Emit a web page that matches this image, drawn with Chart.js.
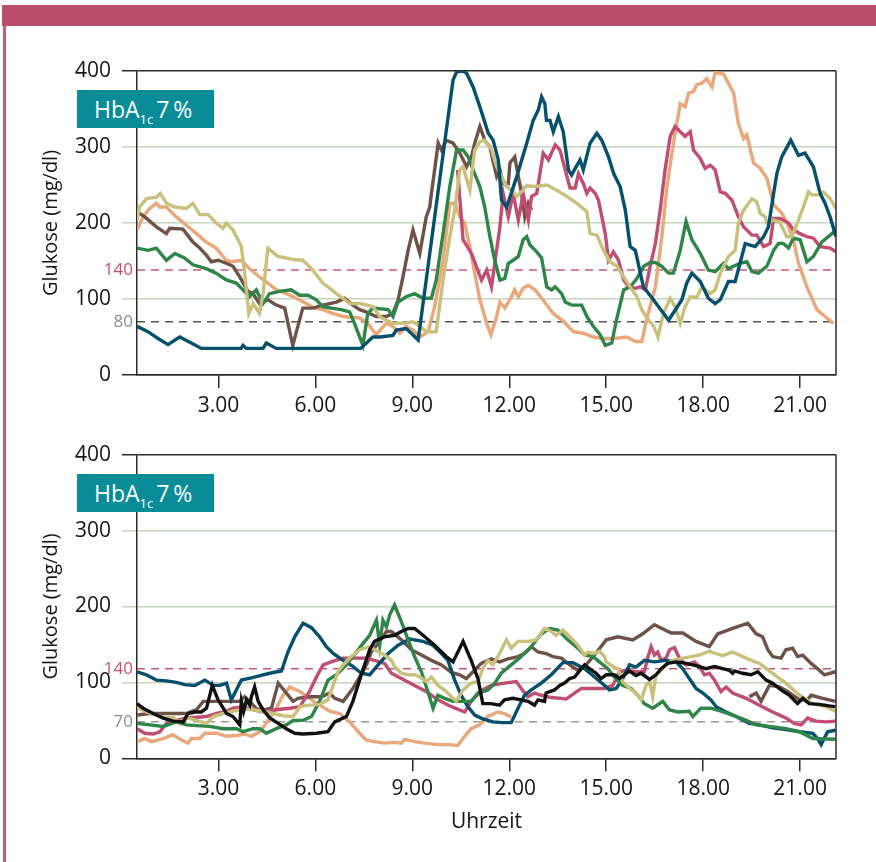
<!DOCTYPE html>
<html>
<head>
<meta charset="utf-8">
<script src="https://cdn.jsdelivr.net/npm/chart.js@4.4.0/dist/chart.umd.min.js"></script>
<style>
  body { margin: 0; background: #fff; width: 876px; height: 862px; position: relative; overflow: hidden; font-family: 'Open Sans', sans-serif; }
  .bar { position: absolute; left: 2px; top: 5px; width: 874px; height: 21px; background: #b94f6b; }
  .side { position: absolute; left: 3px; top: 26px; width: 3px; height: 836px; background: #c25b7a; }
  canvas { position: absolute; left: 0; }
  #topChart { top: 0; }
  #bottomChart { top: 431px; }
  .badge { position: absolute; left: 77px; width: 137px; height: 38px; background: #088c98; color: #fff;
           font-size: 23px; line-height: 38px; padding-left: 17px; box-sizing: border-box; white-space: nowrap; }
  .badge sub { font-size: 13px; line-height: 0; vertical-align: -6px; margin-right: 3px; }
</style>
</head>
<body>
<div class="bar"></div>
<div class="side"></div>
<canvas id="topChart" width="876" height="431"></canvas>
<canvas id="bottomChart" width="876" height="431"></canvas>
<div class="badge" style="top:90px">HbA<sub>1c</sub>7&#8201;%</div>
<div class="badge" style="top:474px">HbA<sub>1c</sub>7&#8201;%</div>
<script>
// x axis: time of day in hours, y axis: glucose mg/dl
const hourTicks = [3, 6, 9, 12, 15, 18, 21];
const yTicks = [0, 100, 200, 300, 400];

// upper panel, [hour, mg/dl]
const topTeal = [[0.48,64],[0.82,57],[1.13,48],[1.44,40],[1.8,50],[2.16,42],[2.47,35],[3.7,35],[3.76,39],[3.86,35],[4.38,35],[4.48,42],[4.79,35],[7.4,35],[7.78,50],[8.0,50],[8.4,52],[8.5,59],[8.81,61],[9.18,46],[10.26,388],[10.37,399],[10.57,400],[10.68,397],[10.88,379],[11.09,353],[11.35,318],[11.5,309],[11.66,283],[11.76,230],[11.92,221],[12.23,261],[12.54,305],[12.74,335],[12.9,349],[13.0,366],[13.1,357],[13.15,335],[13.26,335],[13.36,320],[13.52,340],[13.67,320],[13.83,270],[13.93,263],[14.04,272],[14.19,283],[14.29,270],[14.5,305],[14.71,318],[14.86,309],[15.07,287],[15.23,265],[15.43,248],[15.59,217],[15.74,169],[15.9,164],[16.15,116],[16.46,99],[16.93,72],[17.34,99],[17.49,121],[17.65,134],[17.91,123],[18.16,101],[18.37,94],[18.53,99],[18.78,123],[18.99,123],[19.3,173],[19.61,169],[19.87,182],[20.02,195],[20.18,239],[20.28,265],[20.43,287],[20.71,309],[20.95,289],[21.15,292],[21.41,274],[21.62,239],[21.77,226],[21.93,208],[22.11,182]];
const topBrown = [[0.48,215],[0.72,208],[1.08,195],[1.39,186],[1.49,193],[1.9,192],[2.01,186],[2.21,175],[2.42,167],[2.62,158],[2.78,149],[2.99,151],[3.24,147],[3.45,143],[3.66,129],[3.91,110],[4.07,107],[4.27,94],[4.53,99],[4.79,92],[5.05,88],[5.3,39],[5.61,88],[5.92,88],[6.23,92],[6.65,96],[6.9,101],[7.16,92],[7.37,86],[7.57,83],[7.88,77],[8.19,77],[8.4,81],[8.56,99],[8.71,129],[8.87,164],[9.02,191],[9.23,160],[9.43,208],[9.54,221],[9.59,239],[9.69,270],[9.8,305],[9.9,296],[10.05,309],[10.26,305],[10.47,292],[10.68,274],[10.83,287],[10.93,305],[11.09,327],[11.24,309],[11.4,300],[11.61,261],[11.71,270],[11.81,252],[11.97,252],[12.02,279],[12.17,287],[12.28,261],[12.38,239],[12.48,208],[12.59,226],[12.69,217]];
const topPink = [[10.4,270],[10.57,178],[10.83,160],[11.14,125],[11.3,138],[11.45,116],[11.71,195],[11.81,239],[11.97,208],[12.12,239],[12.28,204],[12.43,239],[12.59,204],[12.69,235],[12.85,239],[13.05,292],[13.21,283],[13.42,303],[13.57,296],[13.73,270],[13.88,246],[14.04,246],[14.14,265],[14.29,252],[14.4,239],[14.5,246],[14.66,239],[14.76,230],[14.97,186],[15.07,151],[15.22,162],[15.38,151],[15.54,125],[15.69,116],[15.9,114],[16.05,116],[16.21,112],[16.36,143],[16.52,173],[16.67,217],[16.82,270],[16.98,314],[17.13,327],[17.29,320],[17.44,314],[17.6,320],[17.7,296],[17.91,285],[18.06,272],[18.22,276],[18.37,270],[18.53,241],[18.68,239],[18.89,230],[19.09,208],[19.25,195],[19.51,184],[19.66,184],[19.87,169],[20.07,173],[20.18,206],[20.38,206],[20.64,200],[20.79,191],[21.0,186],[21.21,182],[21.41,180],[21.62,169],[21.93,167],[22.11,162]];
const topGreen = [[0.48,167],[0.82,164],[1.08,167],[1.39,151],[1.65,160],[1.95,154],[2.21,145],[2.62,140],[2.93,134],[3.24,125],[3.55,121],[3.76,112],[3.96,103],[4.17,112],[4.38,94],[4.58,107],[4.89,110],[5.25,112],[5.51,105],[5.77,105],[6.03,99],[6.23,90],[6.49,88],[6.8,86],[7.06,83],[7.21,68],[7.47,39],[7.62,81],[7.78,88],[8.25,86],[8.4,77],[8.56,96],[8.81,103],[9.07,107],[9.33,101],[9.59,101],[9.74,125],[9.95,186],[10.16,248],[10.37,296],[10.57,296],[10.73,287],[10.88,270],[11.09,248],[11.24,221],[11.4,182],[11.55,151],[11.71,125],[11.86,127],[11.97,147],[12.12,151],[12.28,156],[12.43,178],[12.54,182],[12.64,171],[12.85,162],[13.0,154],[13.16,116],[13.31,112],[13.42,116],[13.62,107],[13.73,96],[13.93,92],[14.24,92],[14.4,77],[14.6,64],[14.81,53],[14.97,39],[15.17,42],[15.33,75],[15.54,112],[15.74,116],[15.95,127],[16.16,143],[16.36,148],[16.52,148],[16.72,143],[16.93,134],[17.08,134],[17.29,164],[17.47,202],[17.65,178],[17.91,160],[18.16,138],[18.37,136],[18.63,147],[18.78,140],[19.14,147],[19.35,149],[19.51,136],[19.71,134],[19.97,143],[20.18,164],[20.33,173],[20.48,173],[20.64,167],[20.79,180],[21.0,178],[21.21,149],[21.41,156],[21.67,175],[21.93,184],[22.11,191]];
const topKhaki = [[0.48,204],[0.56,221],[0.77,232],[1.08,234],[1.2,239],[1.39,226],[1.65,221],[2.01,219],[2.21,226],[2.42,211],[2.68,211],[2.93,200],[3.14,193],[3.24,200],[3.45,191],[3.71,169],[3.81,134],[3.94,81],[4.07,94],[4.27,81],[4.38,107],[4.53,167],[4.84,156],[5.1,154],[5.3,152],[5.61,151],[5.92,138],[6.23,121],[6.39,116],[6.65,107],[6.85,101],[7.06,94],[7.37,94],[7.78,90],[7.99,77],[8.19,72],[8.4,68],[8.71,68],[9.02,70],[9.23,64],[9.43,57],[9.74,57],[9.95,125],[10.16,182],[10.31,217],[10.47,270],[10.57,274],[10.78,243],[10.93,296],[11.09,307],[11.24,309],[11.45,296],[11.61,274],[11.76,261],[11.92,248],[12.07,243],[12.23,235],[12.38,241],[12.54,249],[12.8,248],[13.16,250],[13.47,243],[13.78,235],[14.09,226],[14.4,215],[14.5,186],[14.71,184],[14.92,164],[15.12,149],[15.33,143],[15.54,129],[15.74,116],[15.95,103],[16.1,86],[16.26,75],[16.47,64],[16.6,50],[16.77,81],[16.98,101],[17.13,90],[17.29,68],[17.44,90],[17.6,103],[17.8,102],[17.96,116],[18.22,107],[18.37,112],[18.53,134],[18.78,156],[18.99,164],[19.09,200],[19.25,217],[19.51,232],[19.66,228],[19.76,213],[19.92,208],[19.97,200],[20.18,204],[20.38,200],[20.59,182],[20.74,182],[20.95,204],[21.1,221],[21.26,241],[21.36,237],[21.57,237],[21.72,241],[21.93,232],[22.11,219]];
const topSalmon = [[0.48,191],[0.67,208],[0.87,219],[1.08,226],[1.18,221],[1.39,221],[1.7,208],[2.01,197],[2.32,186],[2.62,175],[2.93,167],[3.24,151],[3.4,149],[3.71,151],[3.96,140],[4.27,129],[4.53,121],[4.79,112],[5.1,107],[5.41,101],[5.72,94],[5.98,88],[6.23,86],[6.54,81],[6.85,77],[7.37,75],[7.62,68],[7.88,53],[8.19,68],[8.4,64],[8.61,55],[8.81,64],[9.02,59],[9.23,50],[9.49,57],[9.69,90],[9.95,151],[10.16,226],[10.31,226],[10.47,208],[10.62,200],[10.78,169],[10.93,134],[11.09,99],[11.3,68],[11.43,53],[11.61,77],[11.71,96],[11.86,88],[12.02,99],[12.17,112],[12.28,103],[12.43,114],[12.59,118],[12.8,112],[13.0,101],[13.16,92],[13.36,81],[13.67,71],[13.98,57],[14.29,55],[14.6,50],[14.92,48],[15.23,48],[15.64,50],[15.9,44],[16.1,44],[16.26,75],[16.52,116],[16.72,182],[16.88,248],[17.08,305],[17.29,357],[17.44,353],[17.55,371],[17.7,373],[17.8,382],[17.96,384],[18.11,390],[18.27,379],[18.37,398],[18.63,396],[18.78,384],[18.94,371],[19.09,331],[19.25,311],[19.35,316],[19.56,279],[19.76,272],[19.97,259],[20.18,224],[20.43,213],[20.59,200],[20.79,178],[20.95,147],[21.21,116],[21.52,86],[21.77,77],[22.03,68]];

// lower panel, [hour, mg/dl]
const botTeal = [[0.48,114],[0.77,110],[1.08,103],[1.39,102],[1.7,100],[1.96,97],[2.27,96],[2.58,103],[2.84,96],[3.04,96],[3.25,99],[3.4,77],[3.71,103],[4.02,106],[4.38,110],[4.69,113],[4.95,115],[5.15,140],[5.36,160],[5.62,178],[5.88,172],[6.13,160],[6.34,147],[6.55,138],[6.86,129],[7.16,121],[7.42,112],[7.68,110],[7.94,123],[8.25,138],[8.56,149],[8.92,157],[9.33,154],[9.64,149],[9.9,138],[10.1,129],[10.31,103],[10.51,83],[10.72,68],[10.93,57],[11.18,52],[11.49,48],[11.8,47],[12.06,47],[12.27,66],[12.47,83],[12.68,90],[12.99,99],[13.3,110],[13.66,126],[13.97,126],[14.33,118],[14.64,107],[14.95,96],[15.1,90],[15.31,92],[15.51,105],[15.72,123],[15.92,120],[16.18,129],[16.49,127],[16.85,129],[17.16,127],[17.37,118],[17.57,105],[17.78,92],[17.99,86],[18.24,77],[18.4,68],[18.71,61],[19.02,55],[19.43,46],[19.74,44],[20.15,40],[20.56,38],[20.98,35],[21.39,33],[21.54,26],[21.65,18],[21.85,35],[22.09,37]];
const botPink = [[0.48,39],[0.72,33],[0.98,32],[1.19,35],[1.39,46],[1.7,50],[2.01,53],[2.32,54],[2.63,55],[2.94,59],[3.25,62],[3.45,66],[3.76,68],[4.07,64],[4.38,61],[4.79,64],[5.21,66],[5.52,68],[5.82,88],[6.03,107],[6.24,123],[6.55,128],[6.86,132],[7.16,132],[7.53,132],[7.83,129],[8.14,125],[8.35,112],[8.66,105],[9.07,96],[9.43,88],[9.79,77],[10.21,68],[10.62,61],[10.82,75],[11.13,89],[11.44,96],[11.85,99],[12.22,101],[12.37,92],[12.58,81],[12.78,86],[12.99,83],[13.3,80],[13.61,79],[13.76,78],[13.92,83],[14.23,92],[14.64,92],[14.95,92],[15.2,96],[15.41,114],[15.61,116],[15.82,114],[16.03,114],[16.18,114],[16.28,132],[16.39,147],[16.49,136],[16.59,140],[16.7,129],[16.85,132],[16.96,143],[17.11,146],[17.26,132],[17.47,123],[17.73,127],[17.88,121],[18.04,110],[18.19,112],[18.35,103],[18.55,88],[18.71,94],[18.91,86],[19.33,79],[19.74,70],[20.15,61],[20.56,53],[20.82,46],[21.03,44],[21.23,53],[21.49,49],[21.8,48],[22.09,49]];
const botBrown = [[0.48,57],[0.88,59],[2.01,59],[2.32,64],[2.53,75],[3.66,75],[3.81,81],[3.97,75],[4.18,65],[4.43,64],[4.64,66],[4.85,99],[5.1,86],[5.31,75],[5.46,79],[5.82,81],[6.19,81],[6.44,86],[6.6,79],[6.86,75],[7.16,92],[7.47,114],[7.6,125],[7.73,140],[7.99,154],[8.2,167],[8.35,167],[8.66,156],[8.97,143],[9.28,136],[9.59,129],[9.9,123],[10.21,113],[10.46,110],[10.67,105],[10.88,114],[11.13,125],[11.44,131],[11.7,127],[11.96,131],[12.27,134],[12.47,138],[12.68,147],[12.89,140],[13.14,138],[13.35,134],[13.61,132],[13.87,123],[14.12,116],[14.33,121],[14.64,136],[15.0,156],[15.36,160],[15.82,156],[16.13,164],[16.49,176],[17.01,165],[17.37,165],[17.78,154],[18.19,147],[18.45,164],[18.91,171],[19.38,178],[19.64,164],[19.84,160],[20.0,143],[20.15,134],[20.41,132],[20.56,143],[20.77,145],[20.92,134],[21.08,136],[21.34,125],[21.54,118],[21.75,110],[22.09,114]];
const botBrownLate = [[19.43,81],[19.64,86],[19.79,75],[20.05,96],[20.36,94],[20.61,88],[20.98,77],[21.23,77],[21.34,83],[21.7,79],[22.09,75]];
const botBlack = [[0.48,72],[0.67,66],[0.98,59],[1.29,53],[1.6,49],[1.91,48],[2.06,59],[2.27,61],[2.47,61],[2.63,66],[2.81,96],[2.99,77],[3.25,59],[3.45,55],[3.66,44],[3.71,75],[3.78,62],[3.87,77],[3.97,70],[4.02,81],[4.12,94],[4.23,75],[4.38,64],[4.59,53],[4.85,46],[5.1,39],[5.36,33],[5.62,32],[6.03,33],[6.39,35],[6.6,48],[6.96,55],[7.16,75],[7.42,110],[7.68,143],[7.83,154],[8.14,160],[8.45,162],[8.66,167],[8.87,171],[9.07,171],[9.33,162],[9.69,149],[10.05,134],[10.26,127],[10.57,154],[10.82,129],[11.03,105],[11.18,72],[11.44,72],[11.7,70],[11.85,77],[12.11,79],[12.37,77],[12.58,75],[12.78,70],[12.89,77],[13.09,75],[13.14,86],[13.4,90],[13.56,96],[13.71,99],[13.87,105],[14.02,107],[14.23,118],[14.33,123],[14.48,118],[14.69,112],[14.84,105],[15.0,110],[15.25,110],[15.41,105],[15.56,110],[15.72,115],[15.92,109],[16.08,112],[16.34,104],[16.54,110],[16.7,118],[16.9,125],[17.16,127],[17.47,125],[17.78,122],[18.09,118],[18.35,121],[18.6,118],[18.81,116],[18.91,112],[18.97,115],[19.22,112],[19.48,110],[19.69,114],[19.95,103],[20.15,99],[20.41,90],[20.67,83],[20.92,72],[21.08,79],[21.28,72],[21.59,71],[21.9,69],[22.09,68]];
const botKhaki = [[0.48,67],[0.77,61],[1.08,57],[1.39,53],[1.6,54],[1.8,48],[2.06,53],[2.32,50],[2.63,46],[2.84,55],[3.14,59],[3.45,62],[3.76,65],[4.07,64],[4.38,62],[4.69,59],[5.0,56],[5.31,55],[5.52,68],[5.82,70],[6.13,71],[6.39,77],[6.55,96],[6.7,114],[6.86,123],[7.11,134],[7.37,143],[7.68,147],[7.83,143],[8.14,136],[8.35,129],[8.45,121],[8.66,112],[8.87,110],[9.07,110],[9.23,107],[9.43,101],[9.59,107],[9.79,96],[10.0,90],[10.21,81],[10.36,75],[10.57,90],[10.82,99],[11.03,101],[11.18,118],[11.34,129],[11.49,123],[11.7,138],[11.91,156],[12.06,145],[12.27,154],[12.58,154],[12.83,156],[13.09,171],[13.3,167],[13.45,162],[13.66,169],[13.87,160],[14.12,149],[14.33,136],[14.43,140],[14.64,138],[14.79,141],[14.95,134],[15.0,127],[15.2,121],[15.36,118],[15.51,101],[15.72,92],[15.92,86],[16.08,77],[16.23,96],[16.34,101],[16.44,81],[16.54,110],[16.7,116],[16.85,123],[17.06,129],[17.37,132],[17.63,134],[17.88,136],[18.19,141],[18.6,135],[18.91,140],[19.33,132],[19.74,125],[20.15,112],[20.56,99],[20.98,83],[21.39,72],[21.8,68],[22.09,62]];
const botGreen = [[0.48,46],[0.88,44],[1.29,42],[1.7,48],[2.01,44],[2.32,43],[2.73,42],[3.14,39],[3.56,39],[3.76,35],[4.07,39],[4.28,39],[4.48,33],[4.79,39],[5.1,44],[5.31,50],[5.62,50],[5.88,55],[6.13,75],[6.39,103],[6.65,110],[6.96,123],[7.27,140],[7.47,151],[7.68,162],[7.89,182],[7.99,149],[8.09,182],[8.2,173],[8.3,189],[8.45,202],[8.66,180],[8.87,156],[9.07,134],[9.28,114],[9.48,88],[9.64,66],[9.79,83],[10.0,79],[10.26,75],[10.82,75],[11.03,86],[11.34,90],[11.55,99],[11.75,112],[12.06,123],[12.37,134],[12.68,147],[12.99,164],[13.25,171],[13.5,169],[13.81,156],[14.12,145],[14.33,136],[14.59,134],[14.79,127],[15.05,118],[15.25,107],[15.51,96],[15.77,92],[15.98,83],[16.18,72],[16.44,66],[16.75,75],[16.95,64],[17.21,61],[17.57,62],[17.68,55],[17.93,66],[18.24,66],[18.55,62],[18.91,57],[19.33,50],[19.64,44],[20.05,42],[20.56,39],[20.98,35],[21.39,26],[22.09,25]];
const botSalmon = [[0.48,22],[0.72,26],[0.93,22],[1.29,26],[1.6,31],[1.86,24],[2.06,20],[2.16,26],[2.42,26],[2.58,33],[2.94,33],[3.25,29],[3.56,30],[3.81,32],[4.02,29],[4.28,35],[4.48,46],[4.79,66],[5.0,83],[5.21,94],[5.52,88],[5.82,79],[6.13,70],[6.44,62],[6.75,59],[7.06,48],[7.37,33],[7.58,24],[7.83,22],[8.14,20],[8.45,21],[8.66,20],[8.76,25],[9.07,22],[9.38,20],[9.79,18],[10.15,18],[10.41,17],[10.62,29],[10.82,39],[11.08,44],[11.34,55],[11.65,61],[11.85,59],[12.06,54]];

// reference lines as drawn, with their printed labels
const topRefs = [{label: '140', value: 138, color: '#c9577a', text: '#c4506f'}, {label: '80', value: 70, color: '#555555', text: '#8c8c8c'}];
const bottomRefs = [{label: '140', value: 118, color: '#c9577a', text: '#c4506f'}, {label: '70', value: 48, color: '#9a9a9a', text: '#8c8c8c'}];

const FONT = "'Open Sans', sans-serif";
const INK = '#151515';
const X_MIN = 0.48, X_MAX = 22.11;

const C = {
  teal: '#04506d', brown: '#6f5247', pink: '#c24d70', green: '#2d8548',
  khaki: '#c9c17b', salmon: '#e9a77a', black: '#111111'
};

function toXY(arr) {
  return arr.map(p => ({x: p[0], y: p[1]}));
}

function lineSet(data, color) {
  return { data: toXY(data), borderColor: color, borderWidth: 3.4, pointRadius: 0, tension: 0, fill: false };
}

function refSet(r) {
  return { data: [{x: X_MIN, y: r.value}, {x: X_MAX, y: r.value}], borderColor: r.color,
           borderWidth: 1.5, borderDash: [8, 6], pointRadius: 0, fill: false };
}

function makeChart(id, sets, refs, layout) {
  const framePlugin = {
    id: 'frame' + id,
    afterDraw(chart) {
      const {ctx, chartArea: a} = chart;
      const y = chart.scales.y;
      ctx.save();
      ctx.strokeStyle = '#2a2a2a';
      ctx.lineWidth = 1.5;
      ctx.beginPath();
      ctx.moveTo(a.right, a.top);
      ctx.lineTo(a.right, a.bottom);
      ctx.stroke();
      ctx.font = '17px ' + FONT;
      ctx.textAlign = 'right';
      ctx.textBaseline = 'middle';
      refs.forEach(r => {
        ctx.fillStyle = r.text;
        ctx.fillText(r.label, a.left - 4, y.getPixelForValue(r.value));
      });
      ctx.restore();
    }
  };

  const edge = c => (c.tick.value === 0 || c.tick.value === 400) ? '#2a2a2a' : '#c6d4bd';

  return new Chart(document.getElementById(id), {
    type: 'line',
    data: { datasets: sets.concat(refs.map(refSet)) },
    options: {
      responsive: false,
      animation: false,
      devicePixelRatio: 1,
      layout: { padding: { top: layout.top, right: 40, bottom: 0, left: 0 } },
      plugins: { legend: { display: false }, tooltip: { enabled: false } },
      scales: {
        x: {
          type: 'linear', min: X_MIN, max: X_MAX,
          afterBuildTicks: s => { s.ticks = hourTicks.map(v => ({value: v})); },
          afterFit: s => { s.height = layout.xHeight; },
          ticks: { padding: 5, color: INK, maxRotation: 0, autoSkip: false,
                   font: { family: FONT, size: 21 }, callback: v => Number(v).toFixed(2) },
          grid: { drawOnChartArea: false, drawTicks: true, tickLength: 13, tickColor: '#2a2a2a', lineWidth: 1.5 },
          border: { display: true, color: '#2a2a2a', width: 1.5 },
          title: { display: layout.xTitle, text: 'Uhrzeit', color: INK,
                   font: { family: FONT, size: 21 }, padding: { top: 0, bottom: 27 } }
        },
        y: {
          min: 0, max: 400,
          afterBuildTicks: s => { s.ticks = yTicks.map(v => ({value: v})); },
          afterFit: s => { s.width = 137; },
          ticks: { padding: 11, color: INK, font: { family: FONT, size: 21 } },
          grid: { color: edge, tickColor: edge, lineWidth: 1.5, tickLength: 15, drawTicks: true },
          border: { display: true, color: '#2a2a2a', width: 1.5 },
          title: { display: true, text: 'Glukose (mg/dl)', color: INK,
                   font: { family: FONT, size: 20 }, padding: { top: 39, bottom: 0 } }
        }
      }
    },
    plugins: [framePlugin]
  });
}

makeChart('topChart', [
  lineSet(topTeal, C.teal),
  lineSet(topKhaki, C.khaki),
  lineSet(topGreen, C.green),
  lineSet(topPink, C.pink),
  lineSet(topBrown, C.brown),
  lineSet(topSalmon, C.salmon)
], topRefs, { top: 71, xHeight: 56, xTitle: false });

makeChart('bottomChart', [
  lineSet(botBlack, C.black),
  lineSet(botKhaki, C.khaki),
  lineSet(botGreen, C.green),
  lineSet(botTeal, C.teal),
  lineSet(botPink, C.pink),
  lineSet(botBrown, C.brown),
  lineSet(botBrownLate, C.brown),
  lineSet(botSalmon, C.salmon)
], bottomRefs, { top: 23.3, xHeight: 103.7, xTitle: true });
</script>
</body>
</html>
